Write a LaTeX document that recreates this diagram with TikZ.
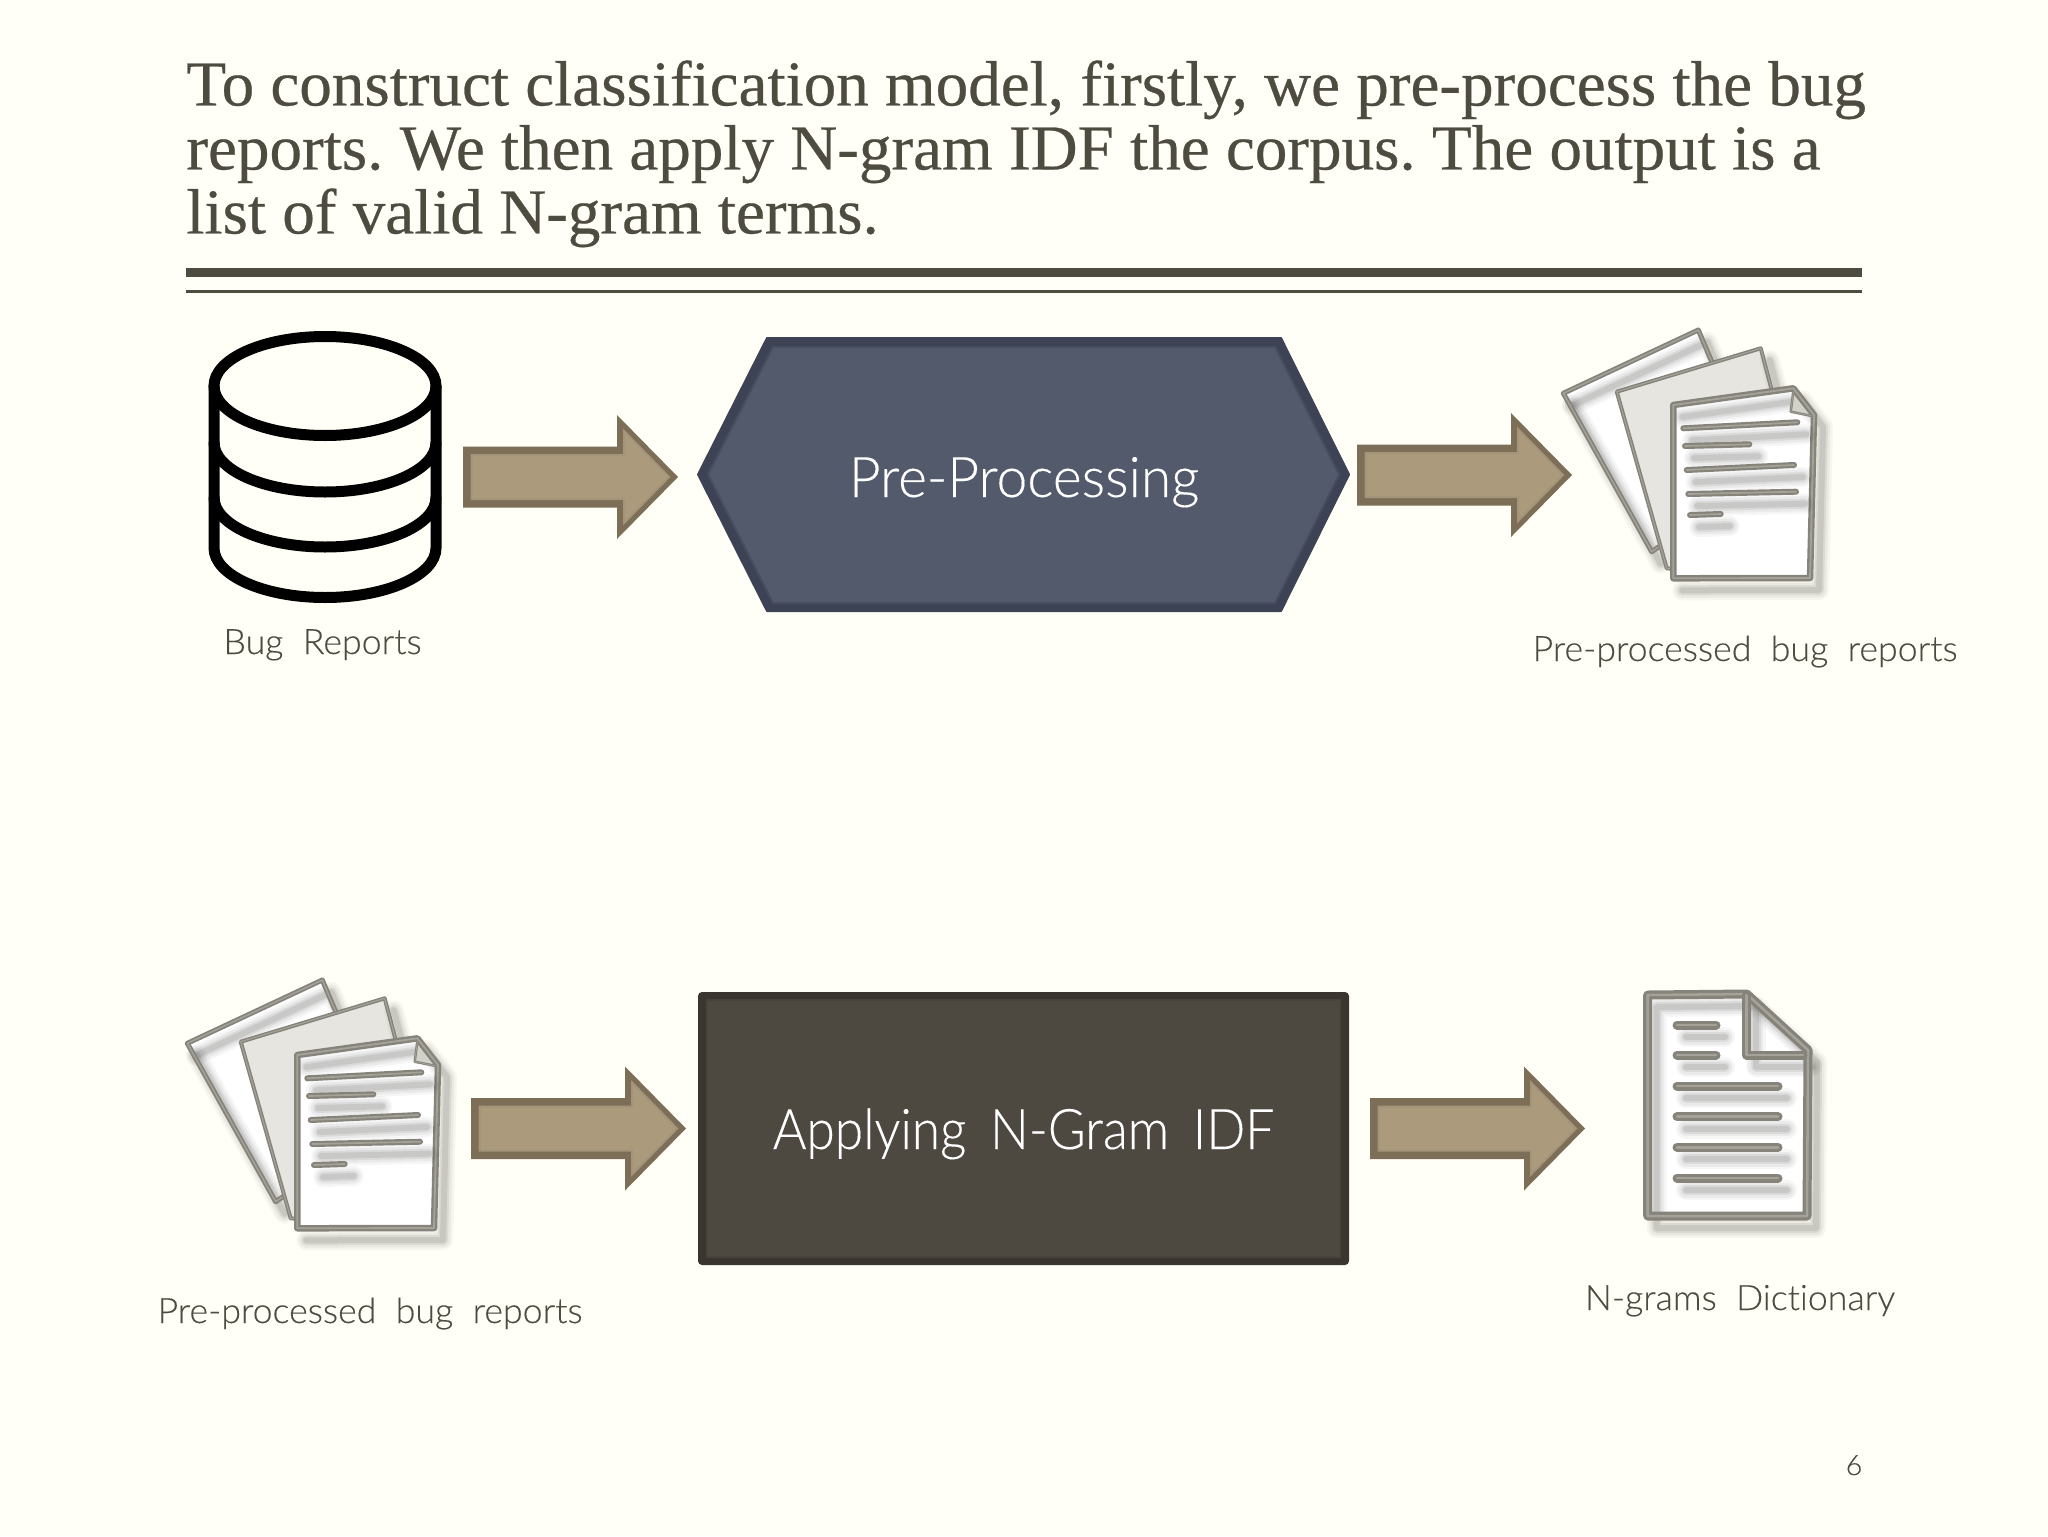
\documentclass[tikz,border=0pt]{standalone}
\usepackage{fontspec}
\setmainfont{Liberation Serif}
\newfontfamily\titlefont{Liberation Serif}[FakeStretch=1.017,FakeBold=0.4]
\newfontfamily\labelfont{Lato Light}[WordSpace=2,FakeStretch=1.02,FakeBold=0.2,Ligatures=NoCommon]
\newfontfamily\prefont{Lato Light}[FakeStretch=0.985,FakeBold=0.2]
\newfontfamily\ngramfont{Lato Light}[FakeStretch=0.918,WordSpace=1.7,FakeBold=0.2]
\definecolor{bgc}{HTML}{FFFFF7}
\definecolor{ink}{HTML}{4E4B40}
\definecolor{arrowout}{HTML}{7D6E58}
\definecolor{arrowline}{HTML}{A3947A}
\definecolor{arrowfill}{HTML}{AB9B7C}
\definecolor{hexband}{HTML}{3D4354}
\definecolor{hexline}{HTML}{474E60}
\definecolor{hexfill}{HTML}{525A6B}
\definecolor{boxband}{HTML}{3A352E}
\definecolor{boxline}{HTML}{48433B}
\definecolor{boxfill}{HTML}{4D4840}
\definecolor{iconline}{HTML}{85837A}
\definecolor{iconhi}{HTML}{A5A399}
\definecolor{sheetgray}{HTML}{E6E5DF}
\definecolor{foldgray}{HTML}{D2D1CA}
\newcommand{\softpath}[1]{%
  \foreach \w/\o in {20/.035,15/.05,10/.07,6/.09}{%
    \draw[shift={(9,12)},line width=\w*0.5pt,black!75!ink,opacity=\o,line cap=round,line join=round] #1;}}
\newcommand{\bevelpath}[2]{%
  \draw[iconline,line width=#1*0.5pt,line cap=round,line join=round] #2;
  \draw[iconhi,line width=#1*0.14pt,line cap=round,line join=round] #2;}
\newcommand{\txtline}[1]{\softpath{#1}\bevelpath{6}{#1}}
\newcommand{\dbarc}[1]{(214,#1) .. controls (214,#1+27.3) and (263.7,#1+49.5) .. (325,#1+49.5) .. controls (386.3,#1+49.5) and (436,#1+27.3) .. (436,#1)}
\newcommand{\paperstack}{%
  % back sheet
  \fill[white] (1563.3,393.3) -- (1698.3,330) -- (1720,382) -- (1651.7,551.7) -- cycle;
  \softpath{(1563.3,393.3) -- (1698.3,330) -- (1711.7,361.7)}
  \softpath{(1563.3,393.3) -- (1651.7,551.7)}
  \bevelpath{5}{(1711.7,361.7) -- (1698.3,330) -- (1563.3,393.3) -- (1651.7,551.7) -- (1660,546)}
  % middle sheet
  \fill[sheetgray] (1616.7,391.7) -- (1760.7,348.3) -- (1771.7,392) -- (1680,570) -- (1666.7,568.3) -- cycle;
  \softpath{(1760.7,348.3) -- (1771.7,390)}
  \bevelpath{4}{(1771.7,390) -- (1760.7,348.3) -- (1616.7,391.7) -- (1666.7,568.3) -- (1675,569)}
  % front sheet
  \fill[white] (1673.3,405) -- (1793.3,388.3) -- (1816.7,415) -- (1811.7,579.3) -- (1673.3,578.3) -- cycle;
  \softpath{(1673.3,405) -- (1793.3,388.3) -- (1814,415) -- (1810,578) -- (1673.3,578.3)}
  \fill[foldgray] (1793.3,391.7) -- (1790.7,411.7) -- (1815,416.7) -- cycle;
  \bevelpath{6.5}{(1673.3,578.3) -- (1673.3,405) -- (1793.3,388.3) -- (1814,415) -- (1810,578) -- cycle}
  \bevelpath{2.5}{(1793.3,391.7) -- (1790.7,411.7) -- (1812,416)}
  \txtline{(1683.3,428.3) -- (1797.3,422.3)}
  \txtline{(1685,446) -- (1749.3,444.3)}
  \txtline{(1686.7,470) -- (1794,465)}
  \txtline{(1688.3,494) -- (1796,491.7)}
  \txtline{(1690,515) -- (1720.7,514)}
}
\tikzset{
  x=0.5pt,y=-0.5pt,
  label text/.style={font=\labelfont\fontsize{17.5}{20}\selectfont,text=ink,anchor=base,inner sep=0pt},
  box text/.style={font=#1\fontsize{28}{32}\selectfont,text=white,anchor=base,inner sep=0pt},
  barrow/.pic={
    \fill[arrowout] (0,-30.5) -- (154,-30.5) -- (154,-62) -- (215,0) -- (154,62) -- (154,30.5) -- (0,30.5) -- cycle;
    \filldraw[draw=arrowline,fill=arrowfill,line width=1pt] (8.5,-22) -- (161,-22) -- (161,-46) -- (206,0) -- (161,46) -- (161,22) -- (8.5,22) -- cycle;
  }
}
\begin{document}
\begin{tikzpicture}
\useasboundingbox (0,0) rectangle (2048,1536);
\fill[bgc] (0,0) rectangle (2048,1536);
% title
\node[anchor=north west,inner sep=0pt,align=left,text=ink,font=\titlefont\fontsize{32}{32}\selectfont\frenchspacing] (title) at (186,60)
 {To construct classification model, firstly, we pre-process the bug\\reports. We then apply N-gram IDF the corpus. The output is a\\list of valid N-gram terms.};
\fill[ink] (186,268) rectangle (1862,277);
\fill[ink] (186,290) rectangle (1862,293);
% database
\begin{scope}[line width=5.5pt,black,line cap=round]
  \draw \dbarc{386} .. controls (436,358.7) and (386.3,336.5) .. (325,336.5) .. controls (263.7,336.5) and (214,358.7) .. (214,386) -- cycle;
  \draw \dbarc{442.5};
  \draw \dbarc{497.5};
  \draw \dbarc{548} -- (436,386) (214,548) -- (214,386);
\end{scope}
\node[label text] (bug) at (322.5,654) {Bug Reports};
% process shapes
\filldraw[draw=hexband,fill=hexband,line width=1pt,line join=round] (698,474.5) -- (767,338) -- (1281,338) -- (1349,474.5) -- (1281,611) -- (767,611) -- cycle;
\filldraw[draw=hexline,fill=hexfill,line width=1pt] (708,474.5) -- (773,347) -- (1275,347) -- (1339,474.5) -- (1275,603) -- (773,603) -- cycle;
\node[box text=\prefont] (pre) at (1024,497) {Pre-Processing};
\fill[boxband,rounded corners=2pt] (698,992) rectangle (1349,1265);
\filldraw[draw=boxline,fill=boxfill,line width=1pt] (707,1000) rectangle (1340,1257);
\node[box text=\ngramfont] (ngram) at (1023.5,1149) {Applying N-Gram IDF};
% block arrows
\pic at (463,477) {barrow};
\pic at (1357,475) {barrow};
\pic at (471,1128.5) {barrow};
\pic at (1370,1128.5) {barrow};
% paper stacks
\paperstack
\begin{scope}[shift={(-1376,650)}]
\paperstack
\end{scope}
\node[label text] (prep1) at (1745,661) {Pre-processed bug reports};
\node[label text] (prep2) at (370,1323) {Pre-processed bug reports};
% single document
\fill[white] (1647.7,995) -- (1746.7,994) -- (1808,1050) -- (1807,1216) -- (1647.7,1216) -- cycle;
\softpath{(1647.7,995) -- (1746.7,994) -- (1808,1050) -- (1807,1216) -- (1647.7,1216) -- cycle}
\softpath{(1746.7,995) -- (1746.7,1055) -- (1803,1055)}
\bevelpath{9}{(1647.7,995) -- (1746.7,994) -- (1808,1050) -- (1807,1216) -- (1647.7,1216) -- cycle}
\bevelpath{9}{(1746.7,995) -- (1746.7,1055) -- (1803,1055)}
\foreach \ly in {1025,1055}{\softpath{(1677,\ly) -- (1716,\ly)}\bevelpath{9}{(1677,\ly) -- (1716,\ly)}}
\foreach \ly in {1086,1116.7,1147.3,1178}{\softpath{(1677,\ly) -- (1778,\ly)}\bevelpath{9}{(1677,\ly) -- (1778,\ly)}}
\node[label text] (dict) at (1740,1310) {N-grams Dictionary};
\node[anchor=base,inner sep=0pt,text=ink,font=\labelfont\fontsize{14}{16}\selectfont] (page) at (1854,1475) {6};
\end{tikzpicture}
\end{document}
